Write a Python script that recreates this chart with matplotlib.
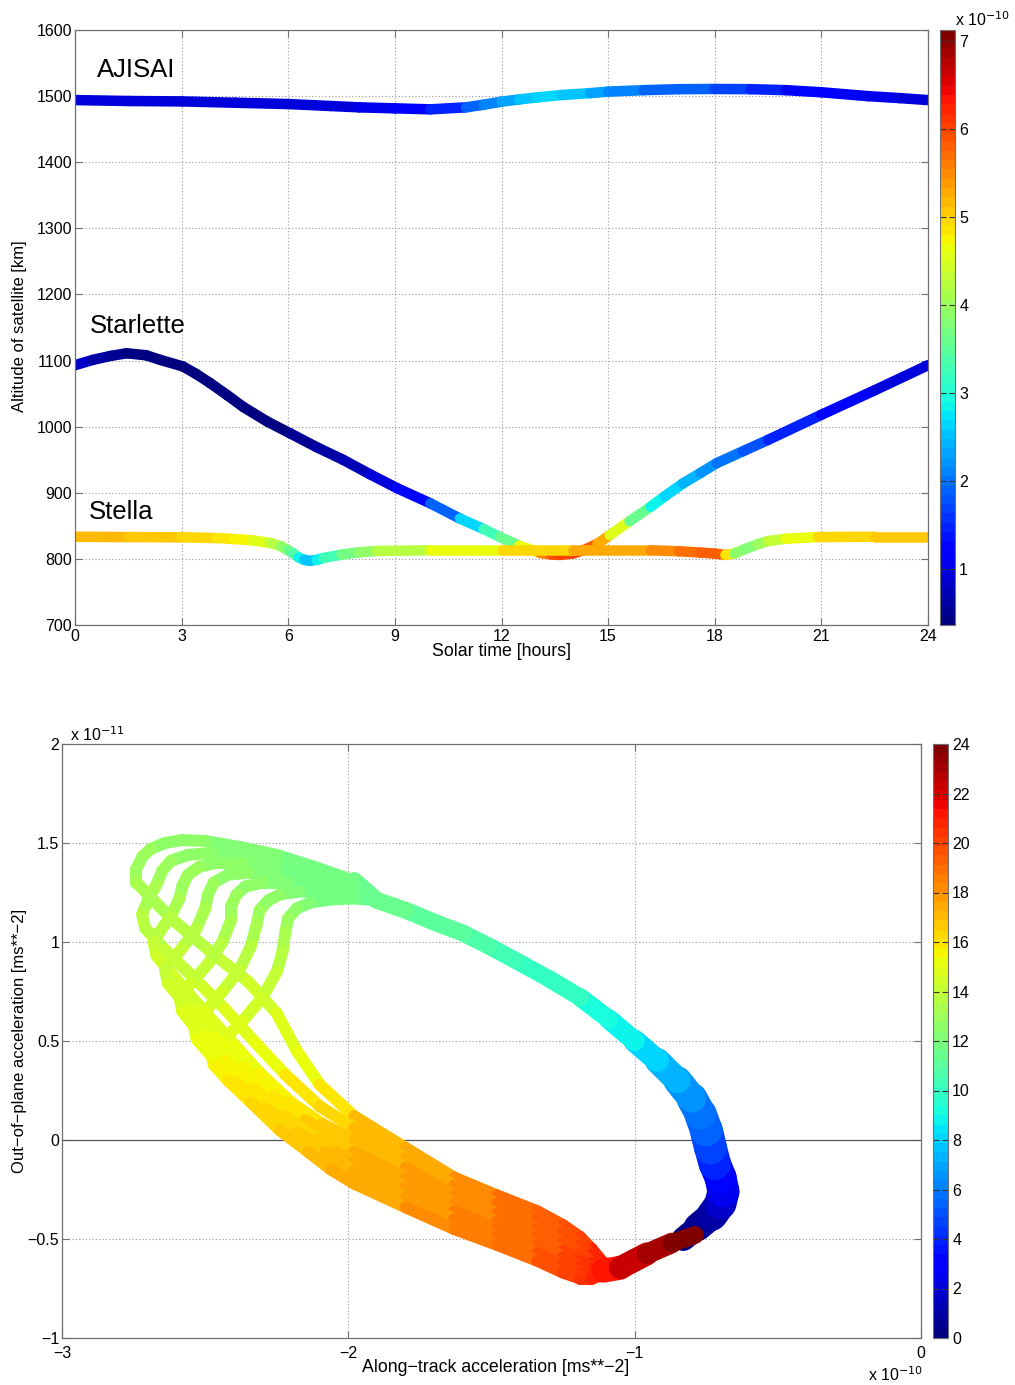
import numpy as np
import matplotlib
matplotlib.use('Agg')
import matplotlib.pyplot as plt
from matplotlib.collections import LineCollection
from matplotlib.colors import Normalize
from matplotlib.cm import ScalarMappable

plt.rcParams['font.family'] = ['Liberation Sans', 'DejaVu Sans']

# ================= top panel data =================
sat_names = ['AJISAI', 'Starlette', 'Stella']

aj_hours = [0, 1.5, 3, 4.5, 6, 7.2, 8, 9, 10, 11, 11.5, 12, 12.5, 13, 13.7, 14.5, 15, 16, 17, 18, 19, 20, 21, 22.3, 23.2, 24]
aj_alt = [1494, 1492.6, 1492, 1490, 1488, 1485, 1483, 1481.5, 1480, 1483, 1487, 1491.6, 1495, 1498, 1501.7, 1504.5, 1506.8, 1509, 1510.5, 1510.8, 1510.5, 1509, 1505.8, 1500, 1497, 1494]
aj_acc = [0.9, 0.9, 0.9, 0.9, 0.9, 0.95, 1.0, 1.05, 1.25, 1.72, 2.05, 2.23, 2.48, 2.65, 2.6, 2.45, 2.23, 1.97, 1.9, 1.8, 1.64, 1.38, 1.2, 1.05, 0.96, 0.9]

st_hours = [0, 0.5, 1.0, 1.45, 2.0, 2.4, 3.04, 3.4, 3.8, 4.3, 4.73, 5.4, 6.05, 6.8, 7.54, 8.3, 9.06, 10.0, 10.83, 11.5, 11.96, 12.5, 13.08, 13.4, 13.65, 14.0, 14.3, 14.7, 15.05, 15.6, 16.2, 16.6, 17.1, 17.6, 18.06, 18.8, 19.5, 21, 22.5, 24]
st_alt = [1093, 1101, 1107, 1111, 1108, 1101, 1091, 1080, 1066, 1047, 1030, 1008, 990, 969, 950, 928, 907, 884, 861, 845, 833, 820, 809, 806.5, 806, 808, 813, 823, 836, 857, 879, 895, 914, 930, 945, 963, 980, 1018, 1055, 1093]
st_acc = [0.87, 0.75, 0.6, 0.5, 0.45, 0.45, 0.45, 0.45, 0.45, 0.45, 0.45, 0.45, 0.5, 0.55, 0.65, 0.85, 1.1, 1.5, 2.2, 3.1, 3.4, 3.8, 5.4, 5.8, 6.0, 6.1, 6.0, 5.6, 5.0, 4.1, 3.0, 2.7, 2.55, 2.3, 2.1, 1.85, 1.64, 1.25, 1.05, 0.95]

sl_hours = [0, 1.5, 3, 4.0, 4.5, 5.0, 5.5, 5.8, 6.0, 6.15, 6.3, 6.45, 6.6, 6.8, 7.0, 7.5, 8.0, 8.5, 10, 12, 14, 16.2, 17.0, 17.6, 18.0, 18.3, 18.55, 18.85, 19.2, 19.5, 20.0, 20.9, 22.5, 24]
sl_alt = [833.5, 833, 832.6, 831.5, 830, 828, 824, 819, 813, 808, 802, 798.5, 797, 798.5, 801.5, 806.5, 810, 812, 813, 813, 813, 813, 811.5, 809.5, 808, 806, 808, 815, 822, 827, 830.5, 833, 833.5, 833.5]
sl_acc = [5.13, 5.13, 5.05, 4.9, 4.8, 4.6, 4.4, 4.1, 3.77, 3.5, 3.2, 2.6, 2.45, 2.7, 3.0, 3.5, 3.8, 4.0, 4.45, 4.75, 5.1, 5.45, 5.55, 5.8, 5.9, 5.6, 4.2, 3.7, 3.9, 4.2, 4.45, 4.85, 5.05, 5.1]

# ================= bottom panel data =================
# along-track [1e-10 m/s^2], out-of-plane [1e-11 m/s^2], solar time [h]
right_hours = [0.0, 0.4, 0.8, 1.3, 1.9, 2.6, 3.4, 4.3, 5.0, 5.5, 6.1, 6.9, 7.8, 8.6, 9.1, 9.6, 9.9, 10.2, 10.5, 10.8, 11.0, 11.2, 11.4]
right_x = [-0.83, -0.78, -0.73, -0.70, -0.69, -0.70, -0.72, -0.735, -0.75, -0.77, -0.80, -0.85, -0.92, -1.00, -1.09, -1.19, -1.30, -1.42, -1.51, -1.60, -1.70, -1.80, -1.90]
right_y = [-0.50, -0.44, -0.38, -0.32, -0.26, -0.19, -0.12, -0.04, 0.05, 0.13, 0.21, 0.30, 0.40, 0.50, 0.61, 0.72, 0.815, 0.91, 0.98, 1.045, 1.10, 1.16, 1.21]

s0_x = [-1.98, -2.12, -2.25, -2.38, -2.50, -2.58, -2.64, -2.69, -2.72, -2.74, -2.74, -2.62, -2.48, -2.35, -2.25, -2.18, -2.10, -1.98, -1.80, -1.63, -1.48, -1.34, -1.25, -1.19, -1.15, -1.11]
s0_y = [1.31, 1.38, 1.44, 1.48, 1.51, 1.515, 1.50, 1.47, 1.43, 1.37, 1.30, 1.12, 0.95, 0.80, 0.64, 0.45, 0.28, 0.12, -0.04, -0.19, -0.28, -0.36, -0.43, -0.49, -0.55, -0.62]
s0_h = [11.5, 11.8, 12.0, 12.2, 12.4, 12.5, 12.6, 12.7, 12.8, 12.9, 13.0, 13.5, 13.9, 14.3, 14.7, 15.1, 15.6, 16.6, 17.2, 17.9, 18.5, 19.1, 19.6, 20.0, 20.4, 20.9]

s1_x = [-1.98, -2.12, -2.25, -2.38, -2.48, -2.56, -2.62, -2.65, -2.67, -2.70, -2.72, -2.71, -2.64, -2.54, -2.43, -2.33, -2.22, -2.10, -1.98, -1.80, -1.63, -1.48, -1.34, -1.25, -1.19, -1.15, -1.11]
s1_y = [1.295, 1.36, 1.41, 1.44, 1.45, 1.44, 1.41, 1.36, 1.29, 1.21, 1.14, 1.07, 0.96, 0.82, 0.66, 0.50, 0.33, 0.17, 0.06, -0.09, -0.23, -0.32, -0.40, -0.47, -0.53, -0.58, -0.64]
s1_h = [11.5, 11.8, 12.0, 12.2, 12.4, 12.6, 12.7, 12.9, 13.1, 13.3, 13.5, 13.7, 14.0, 14.3, 14.7, 15.0, 15.5, 16.1, 16.7, 17.3, 17.9, 18.5, 19.1, 19.6, 20.0, 20.4, 20.9]

s2_x = [-1.98, -2.12, -2.25, -2.37, -2.46, -2.52, -2.56, -2.58, -2.59, -2.62, -2.66, -2.68, -2.67, -2.60, -2.51, -2.41, -2.31, -2.20, -2.09, -1.98, -1.80, -1.63, -1.48, -1.34, -1.25, -1.19, -1.15, -1.11]
s2_y = [1.28, 1.33, 1.37, 1.395, 1.40, 1.38, 1.34, 1.28, 1.22, 1.13, 1.05, 1.00, 0.93, 0.81, 0.66, 0.50, 0.34, 0.19, 0.08, 0.00, -0.14, -0.28, -0.37, -0.45, -0.52, -0.57, -0.62, -0.65]
s2_h = [11.5, 11.8, 12.0, 12.3, 12.5, 12.7, 12.9, 13.0, 13.2, 13.5, 13.7, 13.9, 14.1, 14.4, 14.7, 15.0, 15.4, 15.9, 16.3, 16.8, 17.4, 18.0, 18.6, 19.1, 19.6, 20.0, 20.4, 20.9]

s3_x = [-1.98, -2.12, -2.25, -2.35, -2.42, -2.47, -2.49, -2.50, -2.53, -2.58, -2.62, -2.64, -2.63, -2.56, -2.47, -2.37, -2.26, -2.15, -2.06, -1.98, -1.80, -1.63, -1.48, -1.34, -1.25, -1.19, -1.15, -1.11]
s3_y = [1.265, 1.30, 1.33, 1.35, 1.34, 1.30, 1.24, 1.17, 1.07, 0.97, 0.90, 0.86, 0.79, 0.67, 0.52, 0.37, 0.22, 0.10, 0.01, -0.06, -0.19, -0.32, -0.41, -0.49, -0.56, -0.61, -0.65, -0.66]
s3_h = [11.5, 11.8, 12.1, 12.4, 12.6, 12.8, 13.0, 13.2, 13.5, 13.8, 14.0, 14.1, 14.3, 14.6, 15.0, 15.3, 15.8, 16.3, 16.7, 17.0, 17.5, 18.0, 18.6, 19.2, 19.7, 20.1, 20.5, 20.9]

s4_x = [-1.98, -2.10, -2.21, -2.30, -2.36, -2.39, -2.41, -2.41, -2.44, -2.49, -2.55, -2.59, -2.58, -2.52, -2.43, -2.33, -2.22, -2.11, -2.04, -1.98, -1.80, -1.63, -1.48, -1.34, -1.25, -1.19, -1.15, -1.11]
s4_y = [1.25, 1.28, 1.30, 1.30, 1.28, 1.24, 1.18, 1.11, 1.00, 0.89, 0.79, 0.72, 0.65, 0.54, 0.40, 0.26, 0.12, 0.00, -0.06, -0.11, -0.24, -0.36, -0.45, -0.53, -0.59, -0.64, -0.67, -0.67]
s4_h = [11.5, 11.8, 12.1, 12.4, 12.6, 12.8, 13.0, 13.2, 13.5, 13.9, 14.2, 14.4, 14.6, 14.9, 15.3, 15.7, 16.2, 16.7, 17.0, 17.1, 17.6, 18.1, 18.7, 19.2, 19.7, 20.1, 20.5, 20.9]

s5_x = [-1.98, -2.08, -2.17, -2.24, -2.28, -2.31, -2.32, -2.34, -2.38, -2.44, -2.50, -2.54, -2.53, -2.47, -2.39, -2.29, -2.18, -2.08, -1.98, -1.80, -1.63, -1.48, -1.34, -1.25, -1.19, -1.15, -1.11]
s5_y = [1.235, 1.25, 1.255, 1.24, 1.21, 1.16, 1.09, 0.98, 0.86, 0.75, 0.65, 0.58, 0.51, 0.41, 0.29, 0.16, 0.04, -0.06, -0.16, -0.29, -0.40, -0.49, -0.57, -0.63, -0.67, -0.69, -0.68]
s5_h = [11.5, 11.8, 12.1, 12.4, 12.6, 12.8, 13.1, 13.5, 13.9, 14.3, 14.6, 14.8, 15.0, 15.3, 15.6, 16.0, 16.5, 16.9, 17.2, 17.7, 18.2, 18.7, 19.3, 19.8, 20.2, 20.5, 20.9]

s6_x = [-1.98, -2.06, -2.13, -2.18, -2.21, -2.22, -2.23, -2.25, -2.30, -2.37, -2.44, -2.48, -2.47, -2.42, -2.34, -2.24, -2.14, -2.06, -1.98, -1.80, -1.63, -1.48, -1.34, -1.25, -1.19, -1.15, -1.11]
s6_y = [1.22, 1.215, 1.20, 1.17, 1.12, 1.05, 0.95, 0.85, 0.72, 0.60, 0.50, 0.44, 0.38, 0.30, 0.19, 0.05, -0.06, -0.15, -0.22, -0.34, -0.45, -0.53, -0.61, -0.67, -0.70, -0.70, -0.68]
s6_h = [11.5, 11.8, 12.1, 12.4, 12.7, 13.0, 13.4, 13.9, 14.4, 14.8, 15.0, 15.2, 15.4, 15.6, 15.9, 16.4, 16.9, 17.2, 17.4, 17.8, 18.2, 18.8, 19.4, 19.9, 20.3, 20.6, 20.9]

tail_hours = [20.9, 21.8, 22.8, 23.5, 24.0]
tail_x = [-1.11, -1.05, -0.957, -0.87, -0.79]
tail_y = [-0.66, -0.645, -0.575, -0.52, -0.48]

strands = [(s0_x, s0_y, s0_h), (s1_x, s1_y, s1_h), (s2_x, s2_y, s2_h), (s3_x, s3_y, s3_h),
           (s4_x, s4_y, s4_h), (s5_x, s5_y, s5_h), (s6_x, s6_y, s6_h)]

# ---- styling (widths of the drawn band, in pixels) ----
right_width_px = [22, 26, 30, 32, 32, 32, 32, 33, 33, 32, 30, 27, 24, 21, 19, 18, 17, 17, 17, 17, 17, 17, 17]
tail_width_px = [24, 24, 22, 19, 17]
strand_width_px = 12
top_width_px = 10.5

# ================= figure =================
W, H = 1015, 1385
fig = plt.figure(figsize=(W / 100, H / 100), dpi=100)
PX = 0.72  # points per pixel at 100 dpi


def rect(l, t, r, b):
    return [l / W, 1 - b / H, (r - l) / W, (b - t) / H]


cmap = plt.get_cmap('jet', 64)
frame_col = '#707070'
grid_kw = dict(color='#9a9a9a', linestyle=(0, (1, 2)), linewidth=0.8)
TICK_FS = 11.5


def colored_line(ax, xs, ys, cs, norm, widths_px, z=2):
    xs = np.asarray(xs, float)
    ys = np.asarray(ys, float)
    cs = np.asarray(cs, float)
    pts = np.column_stack([xs, ys]).reshape(-1, 1, 2)
    segs = np.concatenate([pts[:-1], pts[1:]], axis=1)
    if np.ndim(widths_px) == 0:
        lw = widths_px * PX
    else:
        wp = np.asarray(widths_px, float)
        lw = 0.5 * (wp[:-1] + wp[1:]) * PX
    lc = LineCollection(segs, cmap=cmap, norm=norm, linewidths=lw,
                        capstyle='round', joinstyle='round', zorder=z)
    lc.set_array(0.5 * (cs[:-1] + cs[1:]))
    ax.add_collection(lc)
    return lc


def style_axes(ax, xpad=3):
    for s in ax.spines.values():
        s.set_color(frame_col)
        s.set_linewidth(0.9)
    ax.tick_params(direction='in', top=True, right=True, length=5,
                   color=frame_col, labelsize=TICK_FS, width=0.8)
    ax.tick_params(axis='x', pad=xpad)
    ax.tick_params(axis='y', pad=2)
    ax.grid(True, **grid_kw)
    ax.set_axisbelow(True)


# ---- top ----
ax1 = fig.add_axes(rect(75, 30, 928, 625))
cax1 = fig.add_axes(rect(940, 30, 955, 625))
norm1 = Normalize(0.37, 7.12)
colored_line(ax1, aj_hours, aj_alt, aj_acc, norm1, top_width_px)
colored_line(ax1, st_hours, st_alt, st_acc, norm1, top_width_px)
colored_line(ax1, sl_hours, sl_alt, sl_acc, norm1, top_width_px)
ax1.set_xlim(0, 24)
ax1.set_ylim(700, 1600)
ax1.set_xticks(range(0, 25, 3))
ax1.set_yticks(range(700, 1601, 100))
style_axes(ax1)
fig.text(502 / W, 1 - 651 / H, 'Solar time [hours]', fontsize=12.8, ha='center', va='center')
fig.text(20 / W, 1 - 326 / H, 'Altitude of satellite [km]', fontsize=12, ha='center',
         va='center', rotation=90)
ax1.text(0.62, 1529, sat_names[0], fontsize=18.5, va='baseline', ha='left')
ax1.text(0.42, 1141, sat_names[1], fontsize=18.5, va='baseline', ha='left')
ax1.text(0.40, 860, sat_names[2], fontsize=18.5, va='baseline', ha='left')

cb1 = fig.colorbar(ScalarMappable(norm=norm1, cmap=cmap), cax=cax1)
cb1.set_ticks([1, 2, 3, 4, 5, 6, 7])
cb1.outline.set_edgecolor(frame_col)
cax1.tick_params(direction='in', left=True, right=True, length=4,
                 color='#333333', labelsize=TICK_FS, pad=3)
fig.text(955 / W, 1 - 20 / H, r'x 10$^{-10}$', fontsize=11.5, ha='left', va='center')

# ---- bottom ----
ax2 = fig.add_axes(rect(62, 744, 921, 1338))
cax2 = fig.add_axes(rect(933, 744, 948, 1338))
norm2 = Normalize(0, 24)
ax2.axhline(0, color='#555555', linewidth=0.9, zorder=1)
colored_line(ax2, right_x + [s0_x[0]], right_y + [s0_y[0]], right_hours + [s0_h[0]],
             norm2, right_width_px + [17])
for sx, sy, sh in strands:
    colored_line(ax2, [right_x[-1]] + sx + [tail_x[1]], [right_y[-1]] + sy + [tail_y[1]],
                 [right_hours[-1]] + sh + [tail_hours[1]], norm2, strand_width_px)
colored_line(ax2, tail_x, tail_y, tail_hours, norm2, tail_width_px, z=3)
ax2.set_xlim(-3, 0)
ax2.set_ylim(-1, 2)
ax2.set_xticks([-3, -2, -1, 0])
ax2.set_xticklabels(['\u22123', '\u22122', '\u22121', '0'])
ax2.set_yticks([-1, -0.5, 0, 0.5, 1, 1.5, 2])
ax2.set_yticklabels(['\u22121', '\u22120.5', '0', '0.5', '1', '1.5', '2'])
style_axes(ax2, xpad=6)
fig.text(496 / W, 1 - 1367 / H, 'Along\u2212track acceleration [ms**\u22122]', fontsize=12.8,
         ha='center', va='center')
fig.text(20 / W, 1 - 1041 / H, 'Out\u2212of\u2212plane acceleration [ms**\u22122]', fontsize=12,
         ha='center', va='center', rotation=90)
fig.text(70 / W, 1 - 735 / H, r'x 10$^{-11}$', fontsize=11.5, ha='left', va='center')
fig.text(868 / W, 1 - 1375 / H, r'x 10$^{-10}$', fontsize=11.5, ha='left', va='center')

cb2 = fig.colorbar(ScalarMappable(norm=norm2, cmap=cmap), cax=cax2)
cb2.set_ticks(list(range(0, 25, 2)))
cb2.outline.set_edgecolor(frame_col)
cax2.tick_params(direction='in', left=True, right=True, length=4,
                 color='#333333', labelsize=TICK_FS, pad=3)

fig.savefig('out.png', dpi=100)
